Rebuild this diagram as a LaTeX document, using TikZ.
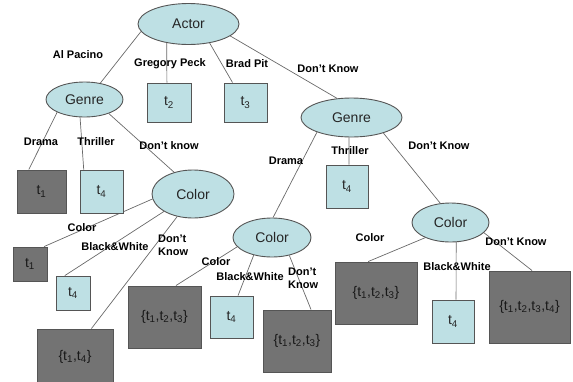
\documentclass[tikz,border=0pt]{standalone}
\usepackage{fontspec}
\setmainfont{Liberation Sans}
\usetikzlibrary{shapes.geometric,backgrounds}
\definecolor{lightfill}{RGB}{190,224,228}
\definecolor{darkfill}{RGB}{115,115,115}
\definecolor{edgegray}{RGB}{105,105,105}
\definecolor{rimgray}{RGB}{85,85,85}
\newcommand{\tsub}[1]{t\textsubscript{#1}}
\tikzset{
  sz/.style 2 args={minimum width=#1pt, minimum height=#2pt},
  attr/.style={ellipse, draw=rimgray, fill=lightfill, line width=0.9pt, inner sep=0pt,
    font=\fontsize{14}{16}\selectfont, text=black!85},
  leafbox/.style={rectangle, draw=rimgray, fill=lightfill, line width=0.9pt, inner sep=0pt,
    font=\fontsize{14}{16}\selectfont, text=black!85},
  setbox/.style={leafbox, fill=darkfill, text=black!90},
  branch/.style={draw=edgegray, line width=0.7pt},
  lbl/.style={font=\fontsize{11}{13}\selectfont\bfseries, text=black, inner sep=0pt},
}
\begin{document}
\begin{tikzpicture}[x=1pt,y=-1pt]
\useasboundingbox (0,0) rectangle (573,381);

% attribute nodes
\node[attr, sz={101}{41}] (actor)  at (188.5,24)  {Actor};
\node[attr, sz={77}{35}]  (genreL) at (84.5,99.5) {Genre};
\node[attr, sz={101}{39}] (genreR) at (351.5,117.5) {Genre};
\node[attr, sz={82}{48}]  (colorL) at (193,194)   {Color};
\node[attr, sz={78}{39}]  (colorM) at (272,237.5) {Color};
\node[attr, sz={77}{39}]  (colorR) at (450.5,222.5) {Color};

% leaves
\node[leafbox, sz={44}{39}] (t2)     at (169,102.5)  {\tsub{2}};
\node[leafbox, sz={43}{39}] (t3)     at (245.5,102.5) {\tsub{3}};
\node[setbox,  sz={49}{43}] (tL1)    at (41.5,191.5) {\tsub{1}};
\node[leafbox, sz={43}{43}] (tL4)    at (101.5,191.5) {\tsub{4}};
\node[setbox,  sz={34}{34}] (tL1b)   at (30,264)     {\tsub{1}};
\node[leafbox, sz={34}{34}] (tL4b)   at (73,293)     {\tsub{4}};
\node[setbox,  sz={76}{56}] (tL14)   at (75,357)     {\{\tsub{1},\tsub{4}\}};
\node[setbox,  sz={73}{62}] (tM123)  at (164.5,317)  {\{\tsub{1},\tsub{2},\tsub{3}\}};
\node[leafbox, sz={43}{42}] (tM4)    at (231.5,317)  {\tsub{4}};
\node[setbox,  sz={68}{62}] (tM123b) at (297,341)    {\{\tsub{1},\tsub{2},\tsub{3}\}};
\node[leafbox, sz={42}{43}] (tR4top) at (347,186.5)  {\tsub{4}};
\node[setbox,  sz={82}{62}] (tR123)  at (376,293)    {\{\tsub{1},\tsub{2},\tsub{3}\}};
\node[leafbox, sz={42}{43}] (tR4)    at (453,321.5)  {\tsub{4}};
\node[setbox,  sz={81}{72}] (tR1234) at (529.5,307)  {\{\tsub{1},\tsub{2},\tsub{3},\tsub{4}\}};

% branches
\begin{scope}[on background layer]
\draw[branch] (actor.189) -- (genreL.46);
\draw[branch] (actor.221) -- (t2.96);
\draw[branch] (actor.318) -- (t3.123);
\draw[branch] (actor.344) -- (genreR.127);
\draw[branch] (genreL.205) -- (tL1.120);
\draw[branch] (genreL.256) -- (tL4.129);
\draw[branch] (genreL.330) -- (colorL.131);
\draw[branch] (colorL.187) -- (tL1b.51);
\draw[branch] (colorL.211) -- (tL4b.115);
\draw[branch] (colorL.235) -- (tL14.60);
\draw[branch] (genreR.203) -- (colorM.87);
\draw[branch] (genreR.263) -- (tR4top.85);
\draw[branch] (genreR.334) -- (colorR.118);
\draw[branch] (colorM.195) -- (tM123.70);
\draw[branch] (colorM.224) -- (tM4.73);
\draw[branch] (colorM.314) -- (tM123b.66);
\draw[branch] (colorR.211) -- (tR123.104);
\draw[branch] (colorR.286) -- (tR4.82);
\draw[branch] (colorR.343) -- (tR1234.86);
\end{scope}

% branch labels
\node[lbl] (lAl)   at (78,55)   {Al Pacino};
\node[lbl] (lGP)   at (170,64)  {Gregory Peck};
\node[lbl] (lBP)   at (247,64)  {Brad Pit};
\node[lbl] (lDK1)  at (328,69)  {Don’t Know};
\node[lbl] (lDr1)  at (41,142)  {Drama};
\node[lbl] (lTh1)  at (96,142)  {Thriller};
\node[lbl] (lDk2)  at (169,146) {Don’t know};
\node[lbl] (lDr2)  at (286,161) {Drama};
\node[lbl] (lTh2)  at (350,151) {Thriller};
\node[lbl] (lDK3)  at (439,146) {Don’t Know};
\node[lbl] (lC1)   at (82,228)  {Color};
\node[lbl] (lBW1)  at (115,247) {Black\&White};
\node[lbl, anchor=west, align=left] (lDK4) at (158,245) {Don’t\\Know};
\node[lbl] (lC2)   at (216,262) {Color};
\node[lbl] (lBW2)  at (250,277) {Black\&White};
\node[lbl, anchor=west, align=left] (lDK5) at (288,278) {Don’t\\Know};
\node[lbl] (lC3)   at (370,238) {Color};
\node[lbl] (lBW3)  at (457,267) {Black\&White};
\node[lbl] (lDK6)  at (516,242) {Don’t Know};
\end{tikzpicture}
\end{document}
